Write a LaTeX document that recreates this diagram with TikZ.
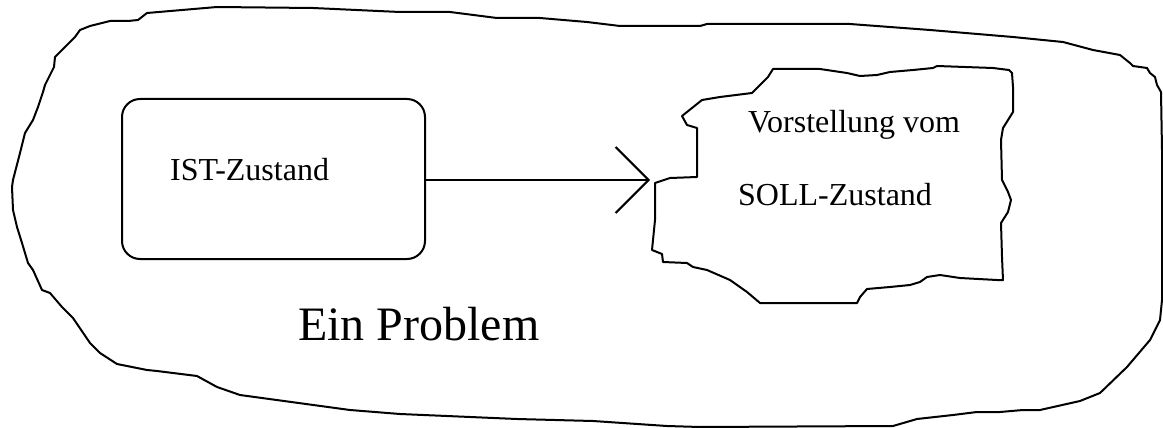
\documentclass[tikz,border=0pt]{standalone}
\usepackage{fontspec}
\setmainfont{Liberation Serif}
\usetikzlibrary{arrows.meta}
\begin{document}
\begin{tikzpicture}[x=1pt,y=-1pt,
  outline/.style={line width=2pt,line join=round,line cap=round},
  label/.style={inner sep=0pt,anchor=base west,font=\fontsize{32}{38}\selectfont},
  biglabel/.style={inner sep=0pt,anchor=base west,font=\fontsize{48}{56}\selectfont}]
\useasboundingbox (0,0) rectangle (1163,428);

% hand-drawn outline of the whole problem area
\draw[outline] (147,13) -- (217,7) -- (313,8) -- (400,12) -- (450,12) -- (497,18)
  -- (540,18) -- (587,22) -- (620,26) -- (700,26) -- (707,24) -- (850,24)
  -- (930,30) -- (1013,37) -- (1063,42) -- (1093,50) -- (1120,55) -- (1130,63)
  -- (1133,66) -- (1147,68) -- (1150,73) -- (1155,77) -- (1157,85) -- (1161,92)
  -- (1162,150) -- (1162,240) -- (1162,300) -- (1160,320) -- (1150,340)
  -- (1127,367) -- (1100,393) -- (1080,401) -- (1040,410) -- (1023,410)
  -- (1000,412) -- (977,412) -- (953,415) -- (917,419) -- (893,426)
  -- (700,427) -- (667,426) -- (593,421) -- (517,419) -- (400,414)
  -- (350,410) -- (240,395) -- (217,387) -- (197,376) -- (157,371)
  -- (147,370) -- (117,364) -- (100,353) -- (90,343) -- (73,318) -- (62,307)
  -- (50,293) -- (42,290) -- (33,270) -- (28,263) -- (22,243) -- (17,227)
  -- (13,210) -- (12,187) -- (13,180) -- (20,153) -- (25,133) -- (33,120)
  -- (38,107) -- (43,92) -- (45,85) -- (54,67) -- (55,57) -- (75,37)
  -- (80,30) -- (90,26) -- (110,21) -- (128,21) -- (138,20) -- cycle;

% current state
\node[draw,line width=2pt,rounded corners=18pt,minimum width=303pt,
  minimum height=160pt,inner sep=0pt] (ist) at (273.5,179) {};
\node[label] (isttext) at (170,180) {IST-Zustand};

% ragged outline of the imagined target state
\coordinate (solltip) at (650,180);
\draw[outline] (655,183) -- (670,178) -- (697,177) -- (697,128) -- (687,125)
  -- (682,116) -- (702,100) -- (720,97) -- (752,93) -- (768,77) -- (773,69)
  -- (820,69) -- (847,73) -- (860,76) -- (877,75) -- (890,72) -- (913,70)
  -- (933,68) -- (937,66) -- (993,68) -- (1009,70) -- (1012,73) -- (1013,87)
  -- (1013,112) -- (1003,128) -- (1001,140) -- (1002,180) -- (1008,192)
  -- (1011,200) -- (1008,212) -- (1001,223) -- (1002,257) -- (1003,280)
  -- (997,280) -- (960,278) -- (940,275) -- (927,277) -- (920,282)
  -- (910,285) -- (890,287) -- (867,289) -- (860,297) -- (857,303)
  -- (760,303) -- (747,292) -- (730,280) -- (707,270) -- (693,267)
  -- (687,263) -- (663,262) -- (662,254) -- (652,250) -- (655,220) -- cycle;
\node[label] (soll1) at (748,132) {Vorstellung vom};
\node[label] (soll2) at (738,205) {SOLL-Zustand};

% transition arrow
\draw[line width=2pt,-{Straight Barb[length=33pt,width=66pt,line width=2pt]}]
  (ist.east |- solltip) -- (solltip);

\node[biglabel] (title) at (298,340) {Ein Problem};
\end{tikzpicture}
\end{document}
